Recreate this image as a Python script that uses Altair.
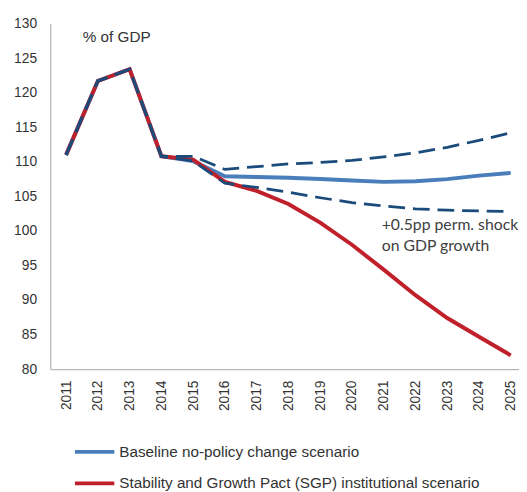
import altair as alt
import pandas as pd

years = [str(y) for y in range(2011, 2026)]
baseline = [111.0, 121.7, 123.4, 110.8, 110.1, 107.9, 107.8, 107.7, 107.5, 107.3, 107.1, 107.2, 107.5, 108.0, 108.4]
sgp = [111.0, 121.7, 123.4, 110.8, 110.3, 107.1, 105.8, 103.9, 101.2, 98.0, 94.4, 90.7, 87.4, 84.7, 82.0]
upper = [111.0, 121.7, 123.4, 110.8, 110.8, 108.9, 109.3, 109.7, 109.9, 110.2, 110.7, 111.3, 112.1, 113.1, 114.2]
lower = [111.0, 121.7, 123.4, 110.8, 110.1, 106.9, 106.3, 105.6, 104.8, 104.1, 103.6, 103.2, 103.0, 102.9, 102.8]

name_base = "Baseline no-policy change scenario"
name_sgp = "Stability and Growth Pact (SGP) institutional scenario"

ann_lines = ["+0.5pp perm. shock", "on GDP growth"]
ann_year = ["2021", "2021"]
ann_y = [100.9, 97.85]

FONT = "Liberation Sans"

df_base = pd.DataFrame({"year": years, "value": baseline, "series": name_base})
df_sgp = pd.DataFrame({"year": years, "value": sgp, "series": name_sgp})
df_dash = pd.concat([
    pd.DataFrame({"year": years, "value": upper, "band": "upper"}),
    pd.DataFrame({"year": years, "value": lower, "band": "lower"}),
])
df_ann = pd.DataFrame({"year": ann_year, "value": ann_y, "text": ann_lines})
df_unit = pd.DataFrame({"year": ["2011"], "value": [128.0], "text": ["% of GDP"]})

xenc = alt.X("year:O", title=None,
             scale=alt.Scale(type="point", padding=0.378, align=0.656),
             axis=alt.Axis(labelAngle=-90, ticks=False, labelPadding=11,
                           labelFont=FONT, labelFontSize=14, labelColor="#333333",
                           domainColor="#a6a6a6", grid=False))
yenc = alt.Y("value:Q", title=None,
             scale=alt.Scale(domain=[80, 130], nice=False, zero=False),
             axis=alt.Axis(values=list(range(80, 131, 5)), ticks=False, labelPadding=14,
                           labelFont=FONT, labelFontSize=14, labelColor="#333333",
                           domainColor="#a6a6a6", grid=False))

color = alt.Color("series:N",
                  scale=alt.Scale(domain=[name_base, name_sgp], range=["#4a7ebb", "#c0202a"]),
                  legend=alt.Legend(title=None, orient="none", legendX=23, legendY=419,
                                    direction="vertical", symbolType="stroke",
                                    symbolSize=1600, symbolStrokeWidth=4,
                                    clipHeight=32, rowPadding=0, labelOffset=3, padding=0,
                                    labelFont=FONT, labelFontSize=15.5, labelColor="#333333",
                                    labelLimit=500))

base_line = alt.Chart(df_base).mark_line(strokeWidth=4).encode(x=xenc, y=yenc, color=color)
sgp_line = alt.Chart(df_sgp).mark_line(strokeWidth=4).encode(x=xenc, y=yenc, color=color)
dash_line = alt.Chart(df_dash).mark_line(strokeWidth=2.8, strokeDash=[17, 8], color="#1a4b7a").encode(
    x=xenc, y=yenc, detail="band:N")

ann = alt.Chart(df_ann).mark_text(align="left", baseline="middle", font="Lato", fontSize=16,
                                   color="#404040", dx=-2).encode(x=xenc, y=yenc, text="text:N")
unit = alt.Chart(df_unit).mark_text(align="left", baseline="middle", font=FONT, fontSize=15.5,
                                    color="#333333", dx=17).encode(x=xenc, y=yenc, text="text:N")

chart = alt.layer(base_line, sgp_line, dash_line, ann, unit).properties(
    width=476, height=351,
    padding={"left": 43, "top": 12, "right": 0, "bottom": 125},
    autosize=alt.AutoSizeParams(type="none"),
).configure_view(stroke=None)

chart.save("out.html", embed_options={"renderer": "svg", "actions": False})
